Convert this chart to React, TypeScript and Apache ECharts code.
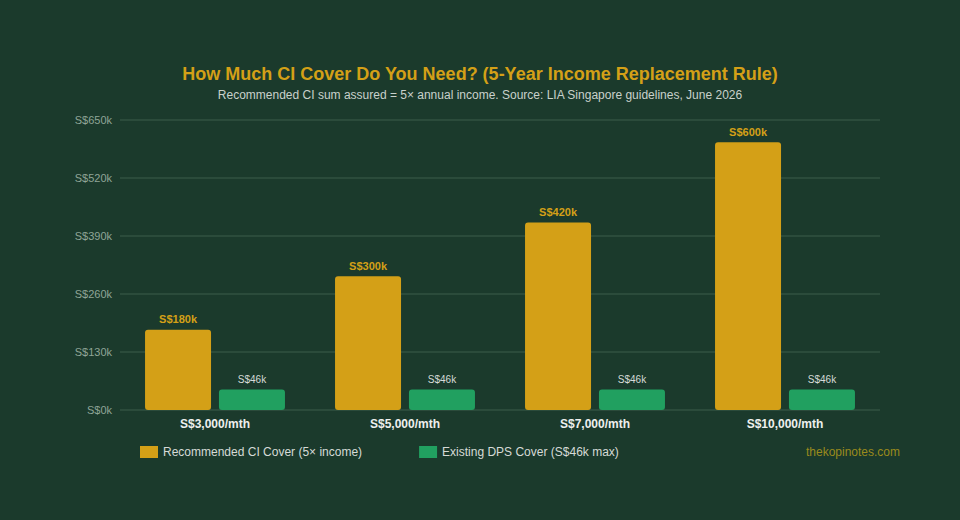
import React, { useEffect, useRef } from "react";
import * as echarts from "echarts";

const categories = ["S$3,000/mth", "S$5,000/mth", "S$7,000/mth", "S$10,000/mth"];
const recommended = [180, 300, 420, 600];
const existingDps = [46, 46, 46, 46];
const seriesNames = ["Recommended CI Cover (5× income)", "Existing DPS Cover (S$46k max)"];

export default function App() {
  const ref = useRef<HTMLDivElement>(null);
  useEffect(() => {
    const chart = echarts.init(ref.current!, null, { renderer: "svg" });
    chart.setOption({
      animation: false,
      backgroundColor: "#1b3a2c",
      textStyle: { fontFamily: "Liberation Sans, Arial, sans-serif" },
      title: {
        text: "How Much CI Cover Do You Need? (5-Year Income Replacement Rule)",
        subtext: "Recommended CI sum assured = 5× annual income. Source: LIA Singapore guidelines, June 2026",
        left: "center",
        top: 60,
        itemGap: 6,
        textStyle: { color: "#d4a017", fontSize: 18, fontWeight: "bold", fontFamily: "Liberation Sans, Arial, sans-serif" },
        subtextStyle: { color: "#c9d1cb", fontSize: 12, fontFamily: "Liberation Sans, Arial, sans-serif" },
      },
      legend: {
        left: 135,
        top: 441,
        itemWidth: 18,
        itemHeight: 12,
        itemGap: 57,
        icon: "rect",
        textStyle: { color: "#d6dad7", fontSize: 12 },
        data: seriesNames,
      },
      graphic: [
        {
          type: "text",
          right: 60,
          top: 446,
          style: { text: "thekopinotes.com", fill: "#9a8a1c", fontSize: 12, fontFamily: "Liberation Sans, Arial, sans-serif" },
        },
      ],
      grid: { left: 120, right: 80, top: 120, bottom: 110 },
      xAxis: {
        type: "category",
        data: categories,
        axisLine: { show: false },
        axisTick: { show: false },
        axisLabel: { color: "#eef0ee", fontWeight: "bold", fontSize: 12, margin: 8 },
      },
      yAxis: {
        type: "value",
        min: 0,
        max: 650,
        interval: 130,
        axisLabel: { color: "#8fa597", fontSize: 11, formatter: (v: number) => `S$${v}k` },
        splitLine: { lineStyle: { color: "#2b4b3b", width: 2 } },
        axisLine: { show: false },
        axisTick: { show: false },
      },
      series: [
        {
          name: seriesNames[0],
          type: "bar",
          data: recommended,
          barWidth: 66,
          barGap: "12%",
          itemStyle: { color: "#d4a017", borderRadius: 3 },
          label: {
            show: true,
            position: "top",
            color: "#d4a017",
            fontWeight: "bold",
            fontSize: 11,
            formatter: (p: any) => `S$${p.value}k`,
          },
        },
        {
          name: seriesNames[1],
          type: "bar",
          data: existingDps,
          barWidth: 66,
          itemStyle: { color: "#21a060", borderRadius: 3 },
          label: {
            show: true,
            position: "top",
            color: "#d6dad7",
            fontSize: 10,
            formatter: (p: any) => `S$${p.value}k`,
          },
        },
      ],
    });
    return () => chart.dispose();
  }, []);
  return <div ref={ref} style={{ width: 960, height: 520, position: "absolute", left: 0, top: 0 }} />;
}
